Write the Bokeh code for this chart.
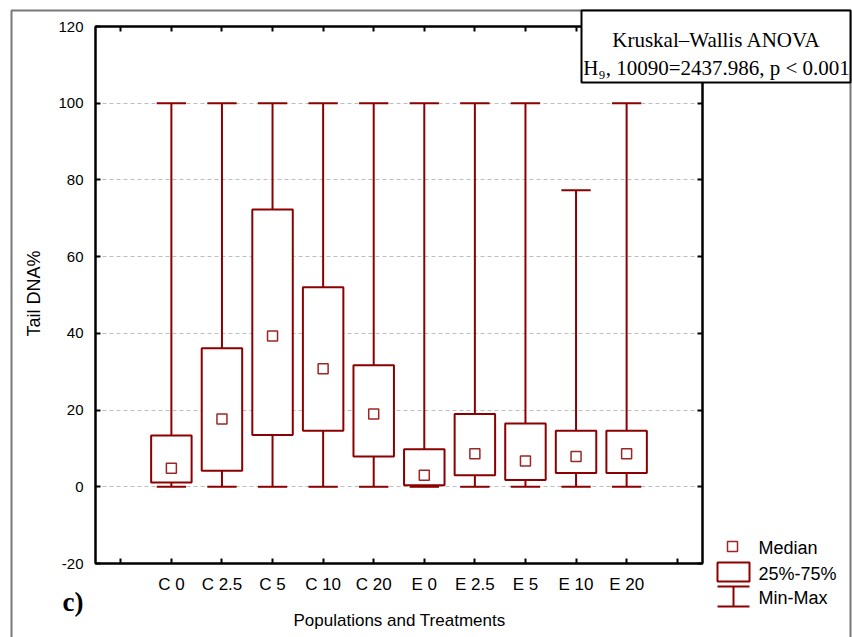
import math
from bokeh.plotting import figure
from bokeh.layouts import column
from bokeh.models import Range1d, FixedTicker, LinearAxis, Label, ColumnDataSource
from bokeh.embed import file_html
from bokeh.resources import INLINE

# ---------------- data ----------------
groups = ["C 0", "C 2.5", "C 5", "C 10", "C 20", "E 0", "E 2.5", "E 5", "E 10", "E 20"]
mins = [0, 0, 0, 0, 0, 0, 0, 0, 0, 0]
maxs = [100, 100, 100, 100, 100, 100, 100, 100, 77.3, 100]
q1 = [1.1, 4.2, 13.5, 14.6, 7.9, 0.4, 3.0, 1.8, 3.6, 3.6]
q3 = [13.4, 36.1, 72.3, 52.0, 31.7, 9.8, 19.0, 16.5, 14.6, 14.6]
medians = [4.8, 17.7, 39.3, 30.8, 19.0, 3.0, 8.6, 6.7, 7.9, 8.6]
y_ticks = [-20, 0, 20, 40, 60, 80, 100, 120]
y_tick_labels = ["-20", "0", "20", "40", "60", "80", "100", "120"]
legend_labels = ["Median", "25%-75%", "Min-Max"]

RED = "#8B0000"
SANS = "Liberation Sans"
SERIF = "Liberation Serif"

# ---------------- frame geometry ----------------
W, H = 852, 637
FX0, FX1, FY0, FY1 = 95, 702, 26, 563
XR0, XR1 = -0.5, len(groups) + 1.5
YR0, YR1 = -20, 120

p = figure(width=W, height=H, output_backend="svg", toolbar_location=None,
           x_range=Range1d(XR0, XR1), y_range=Range1d(YR0, YR1),
           min_border_left=FX0, min_border_right=W - FX1,
           min_border_top=FY0, min_border_bottom=H - FY1)
p.frame_align = False
p.background_fill_color = "white"
p.border_fill_color = "white"
p.outline_line_color = "black"
p.outline_line_width = 2

xpos = list(range(len(groups) + 2))
labels = {0: ""}
for i, g in enumerate(groups):
    labels[i + 1] = g
labels[len(groups) + 1] = ""

p.add_layout(LinearAxis(), "above")
p.add_layout(LinearAxis(), "right")

for ax in p.xaxis:
    ax.ticker = FixedTicker(ticks=xpos)
    ax.major_label_overrides = labels
for ax in p.yaxis:
    ax.ticker = FixedTicker(ticks=y_ticks)

for ax in list(p.xaxis) + list(p.yaxis):
    ax.axis_line_color = "black"
    ax.axis_line_width = 2
    ax.major_tick_line_color = "black"
    ax.major_tick_line_width = 2
    ax.major_tick_in = 5
    ax.major_tick_out = 0
    ax.minor_tick_in = 0
    ax.minor_tick_out = 0
    ax.major_label_text_font = SANS
    ax.major_label_text_color = "black"

p.below[0].major_label_text_font_size = "17px"
p.below[0].major_label_standoff = 11
p.left[0].major_label_text_font_size = "15px"
p.left[0].major_label_standoff = 12
p.left[0].major_label_overrides = dict(zip(y_ticks, y_tick_labels))
p.above[0].major_label_text_font_size = "0px"
p.above[0].major_label_standoff = 0
p.right[0].major_label_text_font_size = "0px"
p.right[0].major_label_standoff = 0
p.right[0].major_label_overrides = {t: "" for t in y_ticks}
p.above[0].major_label_overrides = {t: "" for t in xpos}

p.xgrid.visible = False
p.ygrid.ticker = FixedTicker(ticks=[0, 20, 40, 60, 80, 100])
p.ygrid.grid_line_color = "#bdbdbd"
p.ygrid.grid_line_dash = "4 3"
p.ygrid.grid_line_width = 1

# ---------------- boxes ----------------
xs = list(range(1, len(groups) + 1))
cap = 0.29
src = ColumnDataSource(dict(
    x=xs, lo=mins, hi=maxs, q1=q1, q3=q3, med=medians,
    cl=[x - cap for x in xs], cr=[x + cap for x in xs],
))
p.segment(x0="x", y0="lo", x1="x", y1="hi", source=src, line_color=RED, line_width=2)
p.segment(x0="cl", y0="lo", x1="cr", y1="lo", source=src, line_color=RED, line_width=2)
p.segment(x0="cl", y0="hi", x1="cr", y1="hi", source=src, line_color=RED, line_width=2)
p.vbar(x="x", width=0.8, bottom="q1", top="q3", source=src,
       fill_color="white", line_color=RED, line_width=2)
p.scatter(x="x", y="med", source=src, marker="square", size=10,
          fill_color="white", line_color=RED, line_width=1.5, line_alpha=0.85)

# ---------------- overlay (page-pixel coordinates) for free texts & legend ----------------
q = figure(width=W, height=H, output_backend="svg", toolbar_location=None,
           x_range=Range1d(0, W), y_range=Range1d(H, 0),
           x_axis_type=None, y_axis_type=None, min_border=0,
           margin=(-H, 0, 0, 0))
q.frame_align = False
q.grid.visible = False
q.outline_line_color = None
q.background_fill_color = None
q.border_fill_color = None

# outer frame
q.quad(left=[11], right=[850], top=[10], bottom=[700], fill_alpha=0,
       line_color="#777777", line_width=2)

# statistics box
q.quad(left=[581], right=[850], top=[10], bottom=[82], fill_color="white",
       line_color="black", line_width=2)
q.add_layout(Label(x=716, y=39, text="Kruskal–Wallis ANOVA",
                   text_font=SERIF, text_font_size="21px", text_align="center",
                   text_baseline="alphabetic", text_color="black"))
q.add_layout(Label(x=716, y=67, text="H₉, 10090=2437.986, p < 0.001",
                   text_font=SERIF, text_font_size="21px", text_align="center",
                   text_baseline="alphabetic", text_color="black"))

# axis titles
q.add_layout(Label(x=33, y=293, text="Tail DNA%", angle=math.pi / 2,
                   text_font=SANS, text_font_size="18px", text_align="center",
                   text_baseline="middle", text_color="black"))
q.add_layout(Label(x=399, y=620, text="Populations and Treatments",
                   text_font=SANS, text_font_size="17px", text_align="center",
                   text_baseline="middle", text_color="black"))
q.add_layout(Label(x=62, y=601, text="c)", text_font=SERIF,
                   text_font_size="27px", text_font_style="bold",
                   text_align="left", text_baseline="alphabetic", text_color="black"))

# legend
q.scatter(x=[732], y=[546], marker="square", size=10, fill_color="white",
          line_color=RED, line_width=1.5, line_alpha=0.85)
q.quad(left=[717], right=[749], top=[562], bottom=[581], fill_color="white",
       line_color=RED, line_width=2)
q.multi_line(xs=[[717, 749], [733, 733], [717, 749]],
             ys=[[586, 586], [586, 606], [606, 606]], line_color=RED, line_width=2)
for txt, py in zip(legend_labels, [547, 573, 597]):
    q.add_layout(Label(x=758, y=py, text=txt, text_font=SANS,
                       text_font_size="18px", text_align="left",
                       text_baseline="middle", text_color="black"))

layout = column(p, q)
open("out.html", "w").write(file_html(layout, INLINE))
